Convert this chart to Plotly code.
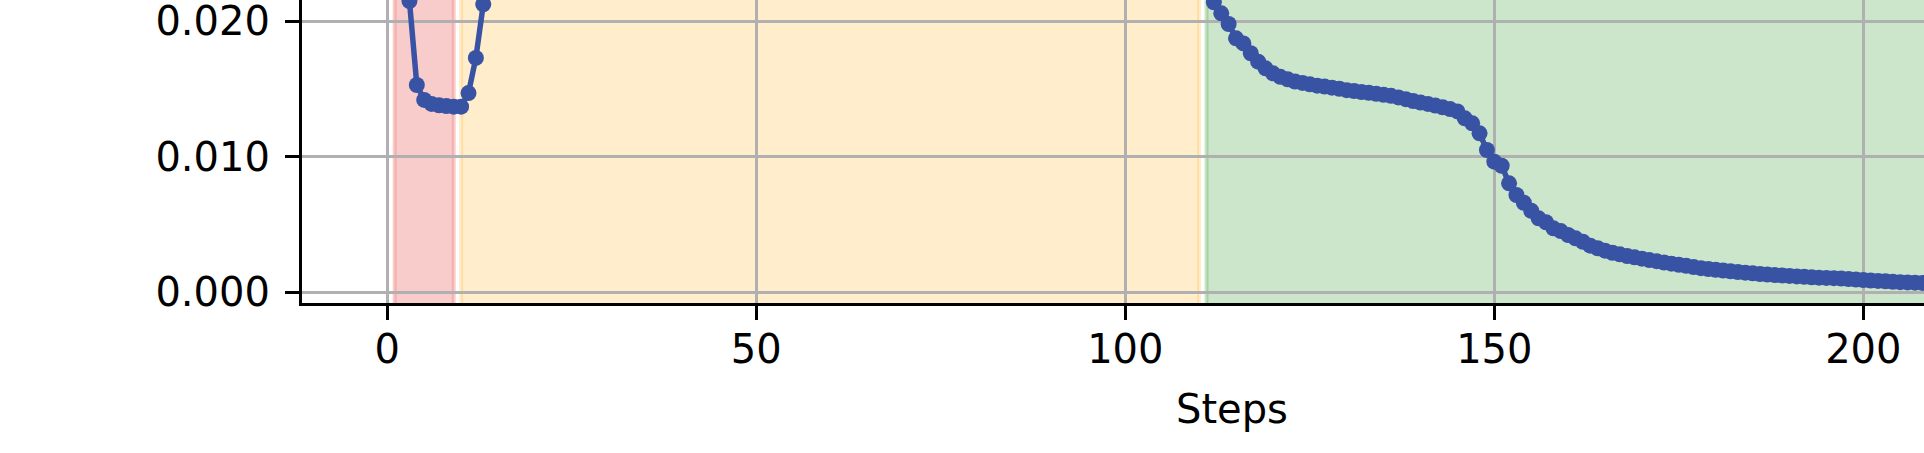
import plotly.graph_objects as go

# ---- data ----
steps = list(range(0, 230))

loss_phase_pre = [0.0263, 0.0249, 0.0234]                      # steps 0-2
loss_drop = [0.0215, 0.0153, 0.0142, 0.0139, 0.0138, 0.01375,  # steps 3-8
             0.0137, 0.0137, 0.0147, 0.0173, 0.02125]          # steps 9-13
loss_plateau = [0.0239, 0.0251, 0.0256, 0.0258, 0.0259, 0.0259,  # steps 14-19
                0.0260, 0.0260, 0.0260, 0.0261, 0.0260, 0.0261, 0.0261, 0.0260, 0.0261, 0.0261,
                0.0261, 0.0262, 0.0261, 0.0261, 0.0262, 0.0262, 0.0261, 0.0262, 0.0262, 0.0262,
                0.0262, 0.0262, 0.0261, 0.0262, 0.0262, 0.0263, 0.0262, 0.0262, 0.0262, 0.0263,
                0.0262, 0.0262, 0.0263, 0.0262, 0.0262, 0.0262, 0.0263, 0.0262, 0.0262, 0.0262,
                0.0262, 0.0261, 0.0262, 0.0262, 0.0262, 0.0261, 0.0262, 0.0261, 0.0261, 0.0262,
                0.0261, 0.0261, 0.0261, 0.0261, 0.0260, 0.0261, 0.0261, 0.0260, 0.0260, 0.0261,
                0.0260, 0.0260, 0.0260, 0.0259, 0.0260, 0.0260, 0.0259, 0.0259, 0.0260, 0.0259,
                0.0259, 0.0259, 0.0259, 0.0258, 0.0259, 0.0259, 0.0258, 0.0258, 0.0259, 0.0258,
                0.0258, 0.0258, 0.0258, 0.0257, 0.0258, 0.0258,                # steps 20-109
                0.0257, 0.0255, 0.0250, 0.0242, 0.0234, 0.0226]               # steps 110-115
loss_decay = [0.0214, 0.02059, 0.0198, 0.01874, 0.01837, 0.01764, 0.01702, 0.01653, 0.01616,  # 116-124
              0.0159, 0.01572, 0.01555, 0.01545, 0.01535, 0.01525, 0.01518, 0.0151, 0.01502,  # 125-133
              0.01492, 0.01485, 0.01478, 0.01472, 0.01465, 0.01457, 0.0145, 0.01438, 0.01425,  # 134-142
              0.01412, 0.014, 0.0139, 0.01378, 0.01365, 0.01352, 0.01335,                      # 143-149
              0.01284, 0.01247, 0.01173, 0.0105, 0.00964, 0.00934, 0.00804, 0.00718, 0.00661,  # 150-158
              0.00602, 0.00546, 0.00517, 0.00472, 0.00452, 0.00423, 0.00398, 0.00373, 0.00344,  # 159-167
              0.00325, 0.00307, 0.00292, 0.0028, 0.00268, 0.00258, 0.00248, 0.00238,            # 168-175
              0.0023, 0.0022, 0.00211, 0.00203, 0.00195, 0.00186, 0.00178, 0.00172, 0.00166,   # 176-184
              0.00161, 0.00155, 0.0015, 0.00145, 0.0014, 0.00135, 0.00131, 0.00127, 0.00124,   # 185-193
              0.00121, 0.00117, 0.00114, 0.00111, 0.00108, 0.00106, 0.00104, 0.00101, 0.00098, # 194-202
              0.00094, 0.0009, 0.00087, 0.00084, 0.00081, 0.00078,                             # 203-208
              0.00075, 0.00073, 0.00071, 0.00069, 0.00067, 0.00066, 0.00064, 0.00063, 0.00062, # 209-217
              0.0006, 0.00059, 0.00058, 0.00057, 0.00056, 0.00055, 0.00054, 0.00053, 0.00052,  # 218-226
              0.00051, 0.0005, 0.0005]                                                          # 227-229
values = loss_phase_pre + loss_drop + loss_plateau + loss_decay

phase_starts = [1, 10, 111]
phase_ends = [9, 110, 229]
phase_colors = ["rgba(240,128,128,0.4)", "rgba(255,165,0,0.2)", "rgba(0,128,0,0.2)"]

x_ticks = [0, 50, 100, 150, 200]
y_ticks = [0.0, 0.01, 0.02]

# ---- figure ----
FONT = "DejaVu Sans"
fig = go.Figure()

px_per_step = 7.38
left_px = 302
x_lo = -11.56
x_hi = x_lo + (1924 - left_px) / px_per_step
y_lo = -0.00079
y_hi = y_lo + 303 / 13550

for s, e, c in zip(phase_starts, phase_ends, phase_colors):
    fig.add_shape(type="rect", xref="x", yref="y", x0=s, x1=e, y0=y_lo - 0.002, y1=y_hi + 0.002,
                  fillcolor=c, line=dict(color=c, width=4), layer="below")

fig.add_trace(go.Scatter(
    x=steps[:len(values)], y=values, mode="lines+markers",
    line=dict(color="#3953a4", width=5.5),
    marker=dict(color="#3953a4", size=16, line=dict(width=0)),
    showlegend=False,
))

axis_common = dict(
    showline=True, linecolor="black", linewidth=3.2, mirror=False,
    ticks="outside", ticklen=14, tickwidth=3.2, tickcolor="black",
    showgrid=True, gridcolor="#b0b0b0", gridwidth=3.2, zeroline=False,
    tickfont=dict(family=FONT, size=40, color="black"), automargin=False,
    ticklabeloverflow="allow",
)
fig.update_xaxes(range=[x_lo, x_hi], tickvals=x_ticks, ticktext=[str(t) for t in x_ticks],
                 ticklabelstandoff=-5, **axis_common)
fig.update_yaxes(range=[y_lo, y_hi], tickvals=y_ticks, ticktext=[f"{t:.3f}" for t in y_ticks],
                 ticklabelstandoff=7, **axis_common)

fig.add_annotation(text="Steps", xref="paper", yref="paper", x=(1231.5 - left_px) / (1924 - left_px),
                   y=-0.35, xanchor="center", yanchor="middle", showarrow=False,
                   font=dict(family=FONT, size=40, color="black"))

fig.update_layout(
    width=1924, height=453, autosize=False,
    margin=dict(l=left_px, r=0, t=0, b=150, pad=0),
    plot_bgcolor="white", paper_bgcolor="white",
    font=dict(family=FONT, size=40, color="black"),
)

fig.write_html("out.html", config={"displayModeBar": False},
               post_script="document.body.style.margin='0';document.body.style.overflow='hidden';")
